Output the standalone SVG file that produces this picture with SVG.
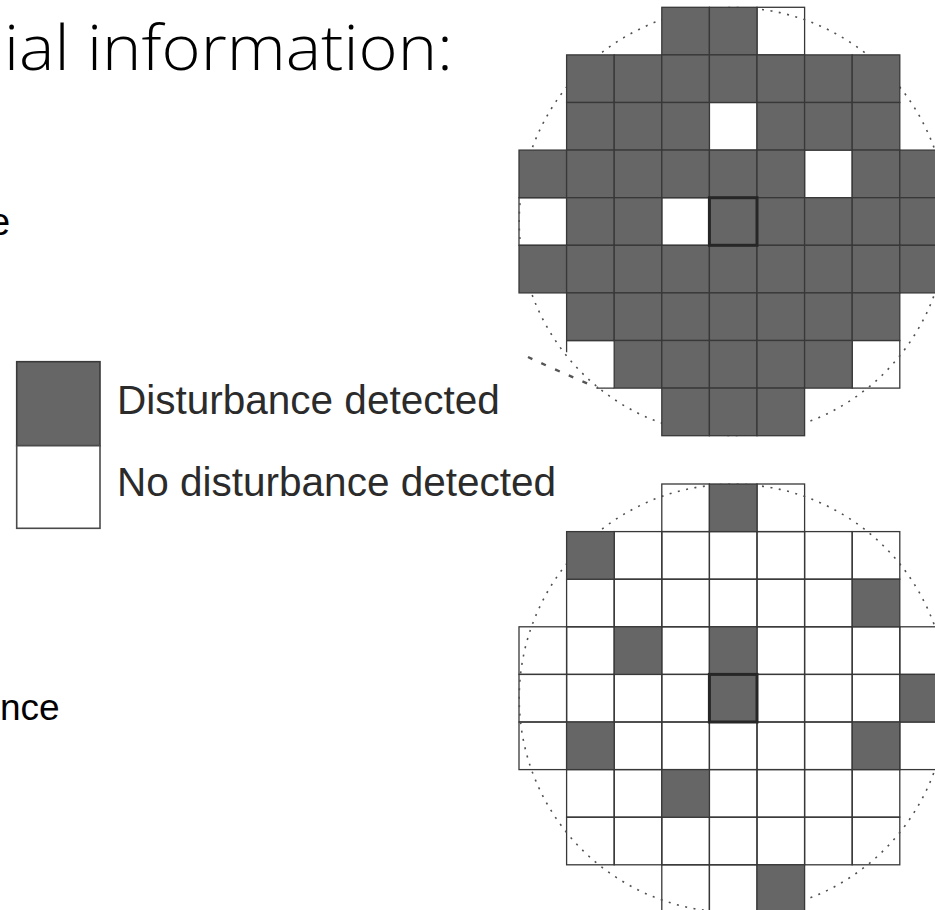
<svg xmlns="http://www.w3.org/2000/svg" xmlns:xlink="http://www.w3.org/1999/xlink" width="935" height="910" viewBox="0 0 935 910">
  <style>
    .title { font-family: "Open Sans", "Liberation Sans", sans-serif; font-weight: 350; fill: #000; }
    .body { font-family: "Liberation Sans", Arial, sans-serif; fill: #000; }
    .leg { font-family: "Liberation Sans", Arial, sans-serif; fill: #2b2b2b; font-size: 40.5px; }
    .d { fill: #666666; stroke: #383838; stroke-width: 1.3; }
    .w { fill: none; stroke: #383838; stroke-width: 1.3; }
    .ctr { fill: none; stroke: #262626; stroke-width: 3; }
    .rim { fill: none; stroke: #505050; stroke-width: 1.6; stroke-dasharray: 2 6.5; }
  </style>
  <defs>
    <!-- one detector cell -->
    <rect id="c" width="47.6" height="47.6"/>
  </defs>

  <rect width="935" height="910" fill="#ffffff"/>

  <!-- text fragments -->
  <g id="title">
    <text class="title" x="4" y="70" font-size="62" textLength="449" lengthAdjust="spacingAndGlyphs">ial information:</text>
  </g>
  <g id="text-left">
    <text class="body" x="-11" y="235" font-size="38">e</text>
    <text class="body" x="0" y="720" font-size="37">nce</text>
  </g>

  <!-- legend -->
  <g id="legend">
    <rect x="16.7" y="361.7" width="83.3" height="84" fill="#666666" stroke="#3a3a3a" stroke-width="1.6"/>
    <rect x="16.7" y="445.7" width="83.3" height="82.6" fill="#ffffff" stroke="#4a4a4a" stroke-width="1.6"/>
    <text class="leg" x="117" y="413.5">Disturbance detected</text>
    <text class="leg" x="117" y="496">No disturbance detected</text>
  </g>

  <!-- upper array: mostly disturbed -->
  <g id="grid-top" transform="translate(519,7.3)">
    <g class="w">
      <use href="#c" x="238" y="0"/>
      <use href="#c" x="190.4" y="95.2"/>
      <use href="#c" x="285.6" y="142.8"/>
      <use href="#c" x="0" y="190.4"/>
      <use href="#c" x="142.8" y="190.4"/>
      <use href="#c" x="333.2" y="333.2"/>
    </g>
    <!-- partly erased cell, lower left -->
    <path d="M47.6,333.2 H95.2 M47.6,333.2 V345 M78,380.8 H95.2" fill="none" stroke="#383838" stroke-width="1.3"/>
    <circle class="rim" cx="214.2" cy="214.2" r="214"/>
    <g class="d">
      <use href="#c" x="142.8" y="0"/><use href="#c" x="190.4" y="0"/>

      <use href="#c" x="47.6" y="47.6"/><use href="#c" x="95.2" y="47.6"/><use href="#c" x="142.8" y="47.6"/><use href="#c" x="190.4" y="47.6"/><use href="#c" x="238" y="47.6"/><use href="#c" x="285.6" y="47.6"/><use href="#c" x="333.2" y="47.6"/>

      <use href="#c" x="47.6" y="95.2"/><use href="#c" x="95.2" y="95.2"/><use href="#c" x="142.8" y="95.2"/><use href="#c" x="238" y="95.2"/><use href="#c" x="285.6" y="95.2"/><use href="#c" x="333.2" y="95.2"/>

      <use href="#c" x="0" y="142.8"/><use href="#c" x="47.6" y="142.8"/><use href="#c" x="95.2" y="142.8"/><use href="#c" x="142.8" y="142.8"/><use href="#c" x="190.4" y="142.8"/><use href="#c" x="238" y="142.8"/><use href="#c" x="333.2" y="142.8"/><use href="#c" x="380.8" y="142.8"/>

      <use href="#c" x="47.6" y="190.4"/><use href="#c" x="95.2" y="190.4"/><use href="#c" x="190.4" y="190.4"/><use href="#c" x="238" y="190.4"/><use href="#c" x="285.6" y="190.4"/><use href="#c" x="333.2" y="190.4"/><use href="#c" x="380.8" y="190.4"/>

      <use href="#c" x="0" y="238"/><use href="#c" x="47.6" y="238"/><use href="#c" x="95.2" y="238"/><use href="#c" x="142.8" y="238"/><use href="#c" x="190.4" y="238"/><use href="#c" x="238" y="238"/><use href="#c" x="285.6" y="238"/><use href="#c" x="333.2" y="238"/><use href="#c" x="380.8" y="238"/>

      <use href="#c" x="47.6" y="285.6"/><use href="#c" x="95.2" y="285.6"/><use href="#c" x="142.8" y="285.6"/><use href="#c" x="190.4" y="285.6"/><use href="#c" x="238" y="285.6"/><use href="#c" x="285.6" y="285.6"/><use href="#c" x="333.2" y="285.6"/>

      <use href="#c" x="95.2" y="333.2"/><use href="#c" x="142.8" y="333.2"/><use href="#c" x="190.4" y="333.2"/><use href="#c" x="238" y="333.2"/><use href="#c" x="285.6" y="333.2"/>

      <use href="#c" x="142.8" y="380.8"/><use href="#c" x="190.4" y="380.8"/><use href="#c" x="238" y="380.8"/>
    </g>
    <use href="#c" class="ctr" x="190.4" y="190.4"/>
  </g>

  <!-- stray dashed stroke left of the upper array -->
  <path d="M528,357 Q560,372 598,388" fill="none" stroke="#555555" stroke-width="2.4" stroke-dasharray="5 10"/>

  <!-- lower array: sparse disturbances -->
  <g id="grid-bottom" transform="translate(519,484)">
    <g class="w">
      <use href="#c" x="142.8" y="0"/><use href="#c" x="238" y="0"/>

      <use href="#c" x="95.2" y="47.6"/><use href="#c" x="142.8" y="47.6"/><use href="#c" x="190.4" y="47.6"/><use href="#c" x="238" y="47.6"/><use href="#c" x="285.6" y="47.6"/><use href="#c" x="333.2" y="47.6"/>

      <use href="#c" x="47.6" y="95.2"/><use href="#c" x="95.2" y="95.2"/><use href="#c" x="142.8" y="95.2"/><use href="#c" x="190.4" y="95.2"/><use href="#c" x="238" y="95.2"/><use href="#c" x="285.6" y="95.2"/>

      <use href="#c" x="0" y="142.8"/><use href="#c" x="47.6" y="142.8"/><use href="#c" x="142.8" y="142.8"/><use href="#c" x="238" y="142.8"/><use href="#c" x="285.6" y="142.8"/><use href="#c" x="333.2" y="142.8"/><use href="#c" x="380.8" y="142.8"/>

      <use href="#c" x="0" y="190.4"/><use href="#c" x="47.6" y="190.4"/><use href="#c" x="95.2" y="190.4"/><use href="#c" x="142.8" y="190.4"/><use href="#c" x="238" y="190.4"/><use href="#c" x="285.6" y="190.4"/><use href="#c" x="333.2" y="190.4"/>

      <use href="#c" x="0" y="238"/><use href="#c" x="95.2" y="238"/><use href="#c" x="142.8" y="238"/><use href="#c" x="190.4" y="238"/><use href="#c" x="238" y="238"/><use href="#c" x="285.6" y="238"/><use href="#c" x="380.8" y="238"/>

      <use href="#c" x="47.6" y="285.6"/><use href="#c" x="95.2" y="285.6"/><use href="#c" x="190.4" y="285.6"/><use href="#c" x="238" y="285.6"/><use href="#c" x="285.6" y="285.6"/><use href="#c" x="333.2" y="285.6"/>

      <use href="#c" x="47.6" y="333.2"/><use href="#c" x="95.2" y="333.2"/><use href="#c" x="142.8" y="333.2"/><use href="#c" x="190.4" y="333.2"/><use href="#c" x="238" y="333.2"/><use href="#c" x="285.6" y="333.2"/><use href="#c" x="333.2" y="333.2"/>

      <use href="#c" x="142.8" y="380.8"/><use href="#c" x="190.4" y="380.8"/>
    </g>
    <circle class="rim" cx="214.2" cy="214.2" r="214"/>
    <g class="d">
      <use href="#c" x="190.4" y="0"/>
      <use href="#c" x="47.6" y="47.6"/>
      <use href="#c" x="333.2" y="95.2"/>
      <use href="#c" x="95.2" y="142.8"/><use href="#c" x="190.4" y="142.8"/>
      <use href="#c" x="190.4" y="190.4"/><use href="#c" x="380.8" y="190.4"/>
      <use href="#c" x="47.6" y="238"/><use href="#c" x="333.2" y="238"/>
      <use href="#c" x="142.8" y="285.6"/>
      <use href="#c" x="238" y="380.8"/>
    </g>
    <use href="#c" class="ctr" x="190.4" y="190.4"/>
  </g>
</svg>
